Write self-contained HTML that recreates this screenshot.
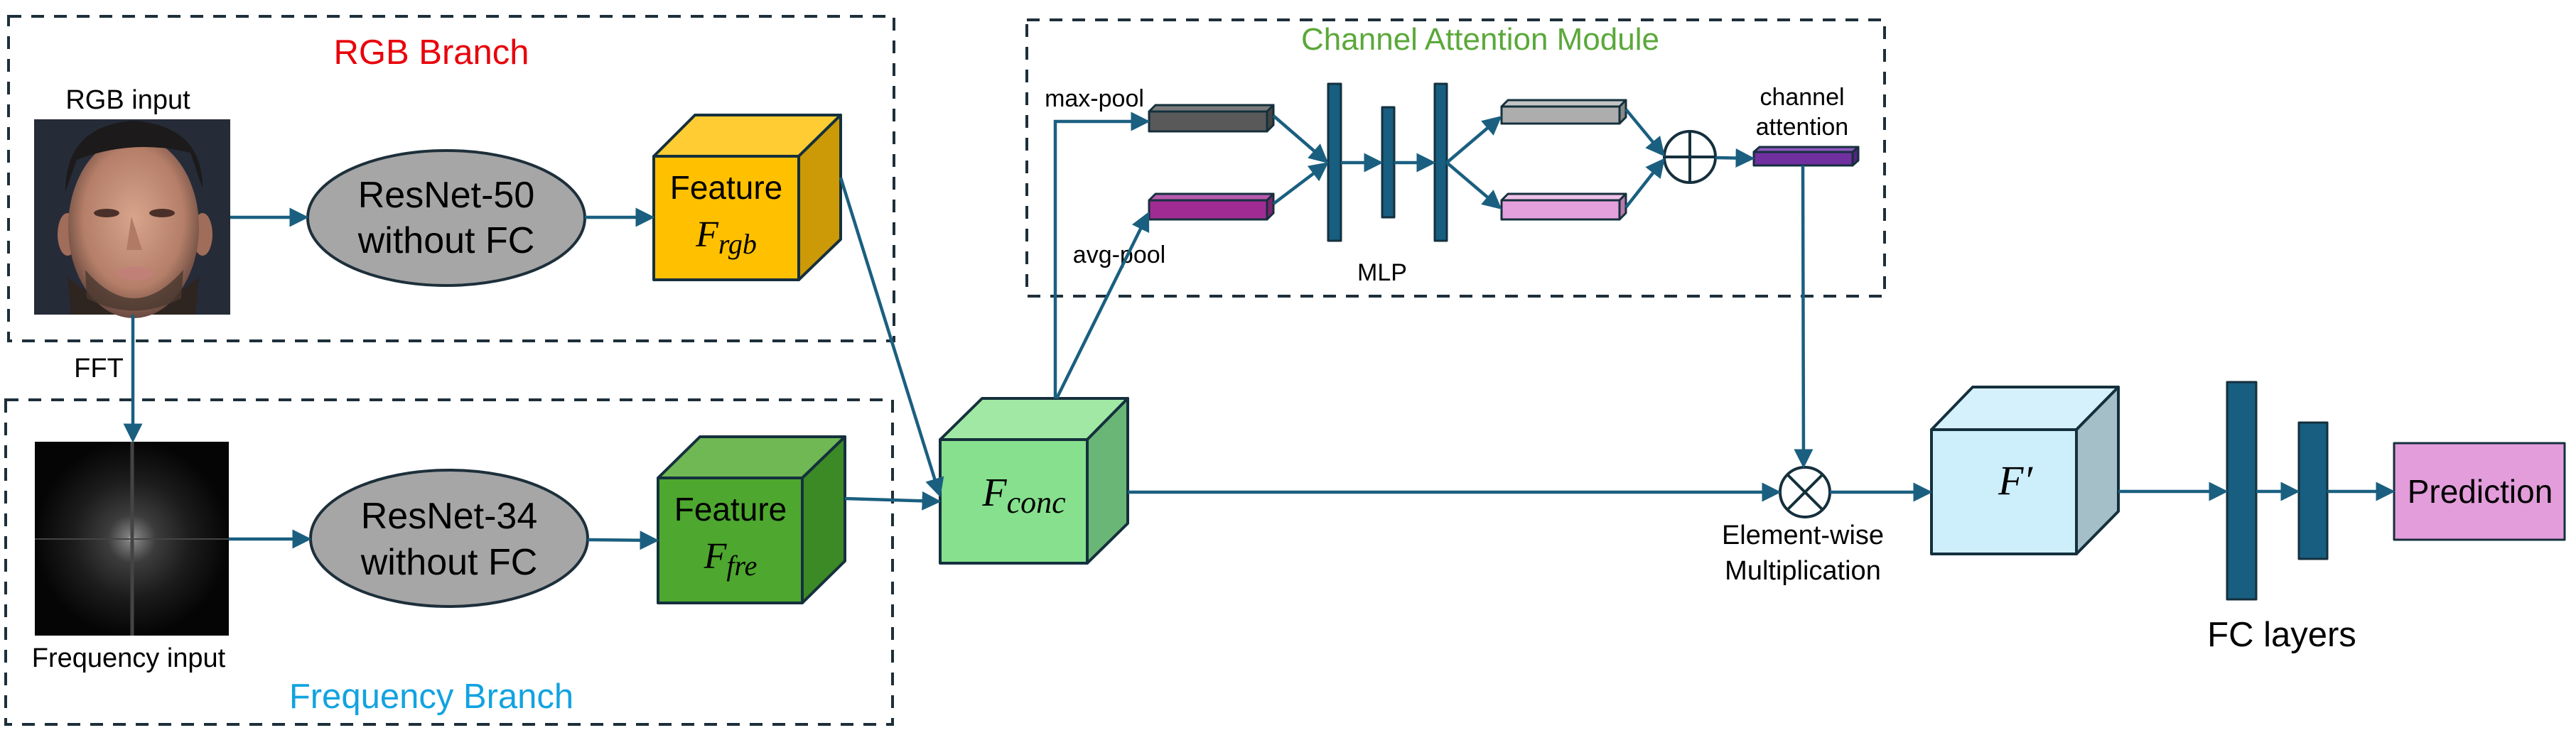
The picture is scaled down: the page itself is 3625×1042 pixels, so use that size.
<!DOCTYPE html>
<html><head><meta charset="utf-8"><style>
html,body{margin:0;padding:0;background:#fff;}
svg{display:block;}
text{font-family:"Liberation Sans",sans-serif;}
.m{font-family:"Liberation Serif",serif;font-style:italic;}
</style></head><body>
<svg width="3625" height="1042" viewBox="0 0 3625 1042" xmlns="http://www.w3.org/2000/svg">
<defs>
<marker id="a" markerWidth="6" markerHeight="6" refX="5" refY="3" orient="auto" markerUnits="strokeWidth">
<path d="M0,0 L6,3 L0,6 Z" fill="#1a5f80"/></marker>
<radialGradient id="fg" cx="0.5" cy="0.5" r="0.5">
<stop offset="0" stop-color="#d0d0d0"/><stop offset="0.04" stop-color="#808080"/><stop offset="0.25" stop-color="#3c3c3c"/><stop offset="0.6" stop-color="#1c1c1c"/><stop offset="1" stop-color="#050505"/></radialGradient>
<radialGradient id="face" cx="0.5" cy="0.45" r="0.55">
<stop offset="0" stop-color="#d8a48c"/><stop offset="0.7" stop-color="#b47e68"/><stop offset="1" stop-color="#6a4a40"/></radialGradient>
</defs>
<g fill="none" stroke="#1d2f3a" stroke-width="4" stroke-dasharray="18,14">
<rect x="12" y="23" width="1246" height="457"/>
<rect x="8" y="563" width="1248" height="457"/>
<rect x="1445" y="28" width="1207" height="389"/>
</g>
<text x="607" y="90" font-size="49" fill="#e8000b" text-anchor="middle">RGB Branch</text>
<text x="607" y="997" font-size="49" fill="#12a3e0" text-anchor="middle">Frequency Branch</text>
<text x="2083" y="70" font-size="44" fill="#5ba83a" text-anchor="middle">Channel Attention Module</text>
<text x="180" y="153" font-size="38" text-anchor="middle">RGB input</text>
<text x="181" y="939" font-size="38" text-anchor="middle">Frequency input</text>
<text x="139" y="531" font-size="38" text-anchor="middle">FFT</text>
<!-- face -->
<rect x="48" y="168" width="276" height="275" fill="#262b38"/>
<ellipse cx="95" cy="330" rx="14" ry="30" fill="#a06d5a"/>
<ellipse cx="285" cy="330" rx="14" ry="30" fill="#a06d5a"/>
<path d="M95,390 Q186,470 280,390 L275,443 L100,443 Z" fill="#2e2420"/>
<ellipse cx="188" cy="320" rx="92" ry="128" fill="url(#face)"/>
<path d="M92,270 Q92,178 186,170 Q285,176 285,265 L268,215 Q186,195 108,225 Z" fill="#1c1a1a"/>
<ellipse cx="150" cy="300" rx="18" ry="6" fill="#4a3028"/><ellipse cx="228" cy="300" rx="18" ry="6" fill="#4a3028"/>
<path d="M120,380 Q188,460 258,380 L255,420 Q188,455 122,420 Z" fill="#4a3830" opacity="0.8"/>
<ellipse cx="190" cy="385" rx="28" ry="9" fill="#c08078"/>
<path d="M185,305 L178,352 L200,352 Z" fill="#b07a65"/>
<!-- freq image -->
<rect x="49" y="622" width="273" height="273" fill="url(#fg)"/>
<line x1="186" y1="622" x2="186" y2="895" stroke="#444" stroke-width="5"/>
<line x1="49" y1="759" x2="322" y2="759" stroke="#444" stroke-width="2"/>
<!-- ellipses -->
<ellipse cx="628" cy="307" rx="195" ry="95" fill="#a6a6a6" stroke="#1d2f3a" stroke-width="4"/>
<text x="628" y="292" font-size="52" text-anchor="middle">ResNet-50</text>
<text x="628" y="356" font-size="52" text-anchor="middle">without FC</text>
<ellipse cx="632" cy="758" rx="195" ry="96" fill="#a6a6a6" stroke="#1d2f3a" stroke-width="4"/>
<text x="632" y="744" font-size="52" text-anchor="middle">ResNet-34</text>
<text x="632" y="809" font-size="52" text-anchor="middle">without FC</text>
<!-- cubes -->
<g stroke="#15303d" stroke-width="4" stroke-linejoin="round">
<polygon points="920,220 978,162 1183,162 1124,220" fill="#ffcc33"/>
<polygon points="1124,220 1183,162 1183,337 1124,394" fill="#cc9a06"/>
<rect x="920" y="220" width="204" height="174" fill="#ffc000"/>
<polygon points="926,673 985,615 1189,615 1129,673" fill="#70b854"/>
<polygon points="1129,673 1189,615 1189,790 1129,849" fill="#3c8a26"/>
<rect x="926" y="673" width="203" height="176" fill="#4ea72e"/>
<polygon points="1323,619 1382,561 1587,561 1530,619" fill="#a0e8a4"/>
<polygon points="1530,619 1587,561 1587,737 1530,793" fill="#6ab676"/>
<rect x="1323" y="619" width="207" height="174" fill="#86e08d"/>
<polygon points="2718,605 2776,545 2981,545 2922,605" fill="#d5f1fb"/>
<polygon points="2922,605 2981,545 2981,720 2922,780" fill="#a5bfc9"/>
<rect x="2718" y="605" width="204" height="175" fill="#cdeefb"/>
</g>
<text x="1022" y="280" font-size="46" text-anchor="middle">Feature</text>
<text x="1022" y="347" font-size="52" class="m" text-anchor="middle">F<tspan font-size="40" dy="10">rgb</tspan></text>
<text x="1028" y="733" font-size="46" text-anchor="middle">Feature</text>
<text x="1028" y="800" font-size="52" class="m" text-anchor="middle">F<tspan font-size="40" dy="10">fre</tspan></text>
<text x="1441" y="712" font-size="56" class="m" text-anchor="middle">F<tspan font-size="44" dy="10">conc</tspan></text>
<text x="2836" y="696" font-size="58" class="m" text-anchor="middle">F′</text>
<!-- CAM bars -->
<g stroke="#15303d" stroke-width="3" stroke-linejoin="round">
<polygon points="1617,157 1626,148 1792,148 1783,157" fill="#7a7a7a"/>
<polygon points="1783,157 1792,148 1792,176 1783,185" fill="#444"/>
<rect x="1617" y="157" width="166" height="28" fill="#595959"/>
<polygon points="1617,282 1626,273 1792,273 1783,282" fill="#b85aae"/>
<polygon points="1783,282 1792,273 1792,300 1783,309" fill="#80226f"/>
<rect x="1617" y="282" width="166" height="27" fill="#a02b93"/>
<polygon points="2113,150 2122,141 2288,141 2279,150" fill="#c4c4c4"/>
<polygon points="2279,150 2288,141 2288,165 2279,174" fill="#888"/>
<rect x="2113" y="150" width="166" height="24" fill="#adadad"/>
<polygon points="2113,282 2122,273 2288,273 2279,282" fill="#eec0e8"/>
<polygon points="2279,282 2288,273 2288,300 2279,309" fill="#b57aae"/>
<rect x="2113" y="282" width="166" height="27" fill="#e4a0dc"/>
<polygon points="2468,214 2476,207 2615,207 2607,214" fill="#9058c0"/>
<polygon points="2607,214 2615,207 2615,226 2607,233" fill="#55237f"/>
<rect x="2468" y="214" width="139" height="19" fill="#7030a0"/>
<rect x="1869" y="118" width="18" height="221" fill="#175e80"/>
<rect x="1945" y="151" width="17" height="155" fill="#175e80"/>
<rect x="2019" y="118" width="17" height="221" fill="#175e80"/>
<rect x="3134" y="538" width="41" height="306" fill="#175e80"/>
<rect x="3235" y="595" width="40" height="192" fill="#175e80"/>
<rect x="3369" y="624" width="240" height="136" fill="#e39ddb"/>
</g>
<text x="3490" y="708" font-size="46" text-anchor="middle">Prediction</text>
<text x="3211" y="910" font-size="49" text-anchor="middle">FC layers</text>
<text x="1540" y="150" font-size="34" text-anchor="middle">max-pool</text>
<text x="1575" y="370" font-size="34" text-anchor="middle">avg-pool</text>
<text x="1945" y="395" font-size="34" text-anchor="middle">MLP</text>
<text x="2536" y="148" font-size="34" text-anchor="middle">channel</text>
<text x="2536" y="190" font-size="34" text-anchor="middle">attention</text>
<text x="2537" y="766" font-size="38" text-anchor="middle">Element-wise</text>
<text x="2537" y="816" font-size="38" text-anchor="middle">Multiplication</text>
<!-- circles -->
<g fill="none" stroke="#15303d" stroke-width="4">
<circle cx="2378" cy="221" r="36"/>
<line x1="2342" y1="221" x2="2414" y2="221"/><line x1="2378" y1="185" x2="2378" y2="257"/>
<circle cx="2540" cy="693" r="35"/>
<line x1="2515" y1="668" x2="2565" y2="718"/><line x1="2565" y1="668" x2="2515" y2="718"/>
</g>
<!-- connectors -->
<g fill="none" stroke="#1a5f80" stroke-width="4.5">
<line x1="324" y1="306" x2="430" y2="306" marker-end="url(#a)"/>
<line x1="823" y1="306" x2="917" y2="306" marker-end="url(#a)"/>
<line x1="187" y1="443" x2="187" y2="619" marker-end="url(#a)"/>
<line x1="322" y1="759" x2="434" y2="759" marker-end="url(#a)"/>
<line x1="827" y1="760" x2="923" y2="761" marker-end="url(#a)"/>
<line x1="1183" y1="250" x2="1322" y2="696" marker-end="url(#a)"/>
<line x1="1189" y1="702" x2="1320" y2="706" marker-end="url(#a)"/>
<polyline points="1485,561 1485,171 1614,171" marker-end="url(#a)"/>
<line x1="1487" y1="561" x2="1615" y2="302" marker-end="url(#a)"/>
<line x1="1792" y1="163" x2="1866" y2="227" marker-end="url(#a)"/>
<line x1="1792" y1="287" x2="1866" y2="231" marker-end="url(#a)"/>
<line x1="1887" y1="229" x2="1942" y2="229" marker-end="url(#a)"/>
<line x1="1962" y1="229" x2="2016" y2="229" marker-end="url(#a)"/>
<line x1="2036" y1="229" x2="2110" y2="166" marker-end="url(#a)"/>
<line x1="2036" y1="229" x2="2110" y2="292" marker-end="url(#a)"/>
<line x1="2288" y1="154" x2="2340" y2="217" marker-end="url(#a)"/>
<line x1="2288" y1="292" x2="2340" y2="226" marker-end="url(#a)"/>
<line x1="2414" y1="222" x2="2465" y2="223" marker-end="url(#a)"/>
<line x1="2537" y1="233" x2="2538" y2="655" marker-end="url(#a)"/>
<line x1="1587" y1="693" x2="2502" y2="693" marker-end="url(#a)"/>
<line x1="2575" y1="693" x2="2715" y2="693" marker-end="url(#a)"/>
<line x1="2981" y1="692" x2="3131" y2="692" marker-end="url(#a)"/>
<line x1="3175" y1="692" x2="3232" y2="692" marker-end="url(#a)"/>
<line x1="3275" y1="692" x2="3366" y2="692" marker-end="url(#a)"/>
</g>
</svg>
</body></html>
